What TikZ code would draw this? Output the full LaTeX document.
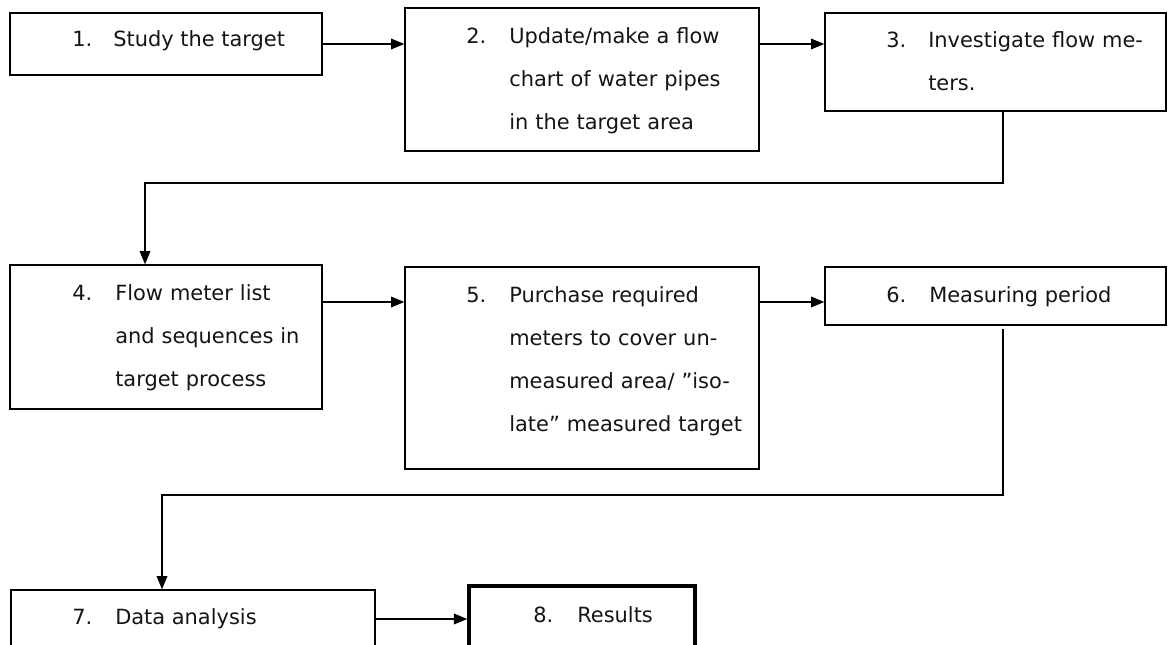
\documentclass[tikz,border=0pt]{standalone}
\usepackage{fontspec}
\setmainfont{DejaVu Sans}
\usetikzlibrary{arrows.meta,fit}
\begin{document}
\begin{tikzpicture}[x=0.75pt,y=-0.75pt,
  box/.style={draw=black, line width=1pt, inner sep=0pt},
  boldbox/.style={box, line width=2.6pt},
  txt/.style={anchor=base west, inner sep=0pt, text=black!92,
    font=\fontsize{15.7}{32.25}\selectfont},
  para/.style={txt, text width=260pt, align=left},
  arr/.style={line width=1pt, -{Triangle[length=10pt,width=8pt]}},
  link/.style={line width=1pt}]
\useasboundingbox (0,0) rectangle (1168,644);
\clip (0,0) rectangle (1168,644);

% boxes
\node[box, fit={(10,13)(322,75)}] (b1) {};
\node[box, fit={(405,8)(759,151)}] (b2) {};
\node[box, fit={(825,13)(1166,111)}] (b3) {};
\node[box, fit={(10,265)(322,409)}] (b4) {};
\node[box, fit={(405,267)(759,469)}] (b5) {};
\node[box, fit={(825,267)(1166,325)}] (b6) {};
\node[box, fit={(11,590)(375,670)}] (b7) {};
\node[boldbox, fit={(469,586)(695,670)}] (b8) {};

% texts
\node[txt] (n1) at (72,46) {1.};
\node[txt] (t1) at (113,46) {Study the target};
\node[txt] (n2) at (466,43) {2.};
\node[para] (t2) at (509,43) {Update/make a flow\\chart of water pipes\\in the target area};
\node[txt] (n3) at (886,47) {3.};
\node[para] (t3) at (928,47) {Investigate flow me-\\ters.};
\node[txt] (n4) at (72,300) {4.};
\node[para] (t4) at (115,300) {Flow meter list\\and sequences in\\target process};
\node[txt] (n5) at (466,302) {5.};
\node[para] (t5) at (509,302) {Purchase required\\meters to cover un-\\measured area/ ”iso-\\late” measured target};
\node[txt] (n6) at (886,302) {6.};
\node[txt] (t6) at (929,302) {Measuring period};
\node[txt] (n7) at (72,624) {7.};
\node[txt] (t7) at (115,624) {Data analysis};
\node[txt] (n8) at (533,622) {8.};
\node[txt] (t8) at (577,622) {Results};

% routing coordinates
\coordinate (r2) at (0,302);
\coordinate (r3) at (0,619);
\coordinate (c3) at (1003,183);
\coordinate (c4) at (145,183);
\coordinate (c6) at (1003,495);
\coordinate (c7) at (162,495);

% connectors
\draw[arr] (b1.east) -- (b2.west |- b1.east);
\draw[arr] (b2.east |- b1.east) -- (b3.west |- b1.east);
\draw[arr] (b3.south -| c3) -- (c3) -- (c4) -- (b4.north -| c4);
\draw[arr] (b4.east |- r2) -- (b5.west |- r2);
\draw[arr] (b5.east |- r2) -- (b6.west |- r2);
\draw[arr, shorten <=2.5pt] (b6.south -| c6) -- (c6) -- (c7) -- (b7.north -| c7);
\draw[arr] (b7.east |- r3) -- (b8.west |- r3);
\end{tikzpicture}
\end{document}
